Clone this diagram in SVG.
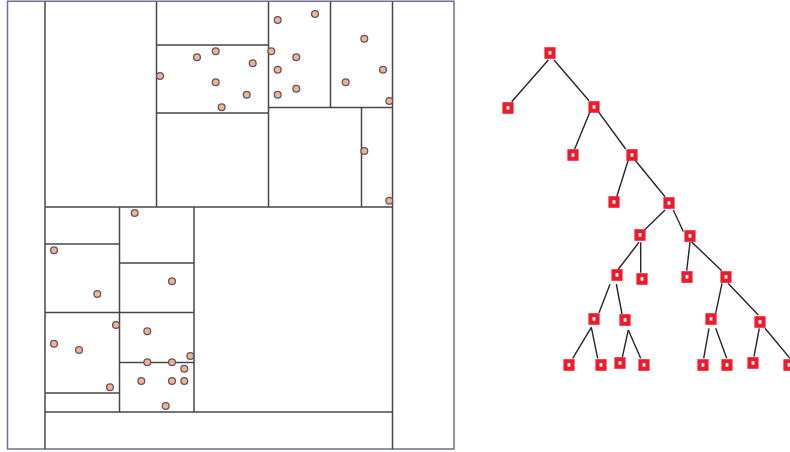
<svg xmlns="http://www.w3.org/2000/svg" width="790" height="452" viewBox="0 0 790 452">
<style>
.frame{fill:#fff;stroke:#6e6e9a;stroke-width:1.5}
.cut{stroke:#474747;stroke-width:1.5;fill:none}
.pt{fill:#fcb474;stroke:#55558a;stroke-width:1.3}
.edge{stroke:#262626;stroke-width:1.4;fill:none}
.nd{fill:#ee1b2d}
.ni{fill:#fff}
</style>
<defs>
<g id="node"><rect class="nd" x="-5.6" y="-5.8" width="11.2" height="11.6"/><rect class="ni" x="-1.4" y="-1.9" width="2.8" height="3.6"/></g>
</defs>
<rect class="frame" x="7.5" y="1.25" width="446.5" height="447.75"/>
<g id="partition">
<line class="cut" x1="45" y1="1.5" x2="45" y2="449"/>
<line class="cut" x1="392.5" y1="1.5" x2="392.5" y2="449"/>
<line class="cut" x1="45" y1="207" x2="392.5" y2="207"/>
<line class="cut" x1="45" y1="412" x2="392.5" y2="412"/>
<line class="cut" x1="156.5" y1="1.5" x2="156.5" y2="207"/>
<line class="cut" x1="268.5" y1="1.5" x2="268.5" y2="207"/>
<line class="cut" x1="156.5" y1="45" x2="268.5" y2="45"/>
<line class="cut" x1="156.5" y1="113" x2="268.5" y2="113"/>
<line class="cut" x1="268.5" y1="107.5" x2="392.5" y2="107.5"/>
<line class="cut" x1="330.5" y1="1.5" x2="330.5" y2="107.5"/>
<line class="cut" x1="361.5" y1="107.5" x2="361.5" y2="207"/>
<line class="cut" x1="194" y1="207" x2="194" y2="412"/>
<line class="cut" x1="119.5" y1="207" x2="119.5" y2="412"/>
<line class="cut" x1="45" y1="244" x2="119.5" y2="244"/>
<line class="cut" x1="45" y1="312.5" x2="194" y2="312.5"/>
<line class="cut" x1="45" y1="393" x2="119.5" y2="393"/>
<line class="cut" x1="119.5" y1="263" x2="194" y2="263"/>
<line class="cut" x1="119.5" y1="362.5" x2="194" y2="362.5"/>
</g>
<g id="points">
<circle class="pt" cx="197" cy="57.3" r="3.4"/>
<circle class="pt" cx="215.7" cy="51.3" r="3.4"/>
<circle class="pt" cx="160" cy="76" r="3.4"/>
<circle class="pt" cx="215.7" cy="82.3" r="3.4"/>
<circle class="pt" cx="221.7" cy="107.3" r="3.4"/>
<circle class="pt" cx="134.7" cy="213" r="3.4"/>
<circle class="pt" cx="277.7" cy="20" r="3.4"/>
<circle class="pt" cx="315" cy="14" r="3.4"/>
<circle class="pt" cx="271.3" cy="51.3" r="3.4"/>
<circle class="pt" cx="296.3" cy="57.3" r="3.4"/>
<circle class="pt" cx="277.7" cy="69.7" r="3.4"/>
<circle class="pt" cx="296.3" cy="88.7" r="3.4"/>
<circle class="pt" cx="277.7" cy="94.7" r="3.4"/>
<circle class="pt" cx="252.7" cy="63.3" r="3.4"/>
<circle class="pt" cx="246.7" cy="94.7" r="3.4"/>
<circle class="pt" cx="364.3" cy="38.7" r="3.4"/>
<circle class="pt" cx="383" cy="69.7" r="3.4"/>
<circle class="pt" cx="345.7" cy="82.3" r="3.4"/>
<circle class="pt" cx="389.3" cy="101" r="3.4"/>
<circle class="pt" cx="364.3" cy="151" r="3.4"/>
<circle class="pt" cx="389.3" cy="200.7" r="3.4"/>
<circle class="pt" cx="54" cy="250.3" r="3.4"/>
<circle class="pt" cx="97.3" cy="294" r="3.4"/>
<circle class="pt" cx="172" cy="281.3" r="3.4"/>
<circle class="pt" cx="116" cy="325" r="3.4"/>
<circle class="pt" cx="54" cy="343.7" r="3.4"/>
<circle class="pt" cx="79" cy="350" r="3.4"/>
<circle class="pt" cx="147.3" cy="331.3" r="3.4"/>
<circle class="pt" cx="190.3" cy="356" r="3.4"/>
<circle class="pt" cx="147.3" cy="362.3" r="3.4"/>
<circle class="pt" cx="172" cy="362.3" r="3.4"/>
<circle class="pt" cx="184.3" cy="368.7" r="3.4"/>
<circle class="pt" cx="141.3" cy="381" r="3.4"/>
<circle class="pt" cx="172" cy="381" r="3.4"/>
<circle class="pt" cx="184.3" cy="381" r="3.4"/>
<circle class="pt" cx="110" cy="387.3" r="3.4"/>
<circle class="pt" cx="165.7" cy="406" r="3.4"/>
</g>
<g id="connectors">
<line class="edge" x1="548.3" y1="60" x2="511.7" y2="101.7"/>
<line class="edge" x1="554" y1="60" x2="589" y2="100.7"/>
<line class="edge" x1="590" y1="111.7" x2="574.7" y2="149"/>
<line class="edge" x1="598.3" y1="111.7" x2="625.7" y2="149"/>
<line class="edge" x1="628.3" y1="160" x2="616.7" y2="196.7"/>
<line class="edge" x1="635" y1="160" x2="665" y2="196.7"/>
<line class="edge" x1="665" y1="210" x2="644.5" y2="230"/>
<line class="edge" x1="673.3" y1="210" x2="683.3" y2="231.5"/>
<line class="edge" x1="639" y1="242.3" x2="618.3" y2="269.3"/>
<line class="edge" x1="640.7" y1="242.3" x2="640.7" y2="272.7"/>
<line class="edge" x1="690" y1="242" x2="686.7" y2="270.7"/>
<line class="edge" x1="691.7" y1="242" x2="721.7" y2="270.7"/>
<line class="edge" x1="610" y1="284.3" x2="599" y2="312.7"/>
<line class="edge" x1="616.3" y1="284" x2="622" y2="314"/>
<line class="edge" x1="722" y1="283.3" x2="715.7" y2="313.3"/>
<line class="edge" x1="728" y1="283.3" x2="758.3" y2="315"/>
<line class="edge" x1="591.3" y1="327.3" x2="572.7" y2="358.3"/>
<line class="edge" x1="591.3" y1="327.3" x2="597.7" y2="358.3"/>
<line class="edge" x1="628.3" y1="330" x2="622.3" y2="357.3"/>
<line class="edge" x1="628.3" y1="330" x2="640.7" y2="358.3"/>
<line class="edge" x1="709" y1="328.3" x2="703.7" y2="358.3"/>
<line class="edge" x1="715.7" y1="328.3" x2="726.7" y2="358.3"/>
<line class="edge" x1="759.3" y1="328.3" x2="754" y2="356.7"/>
<line class="edge" x1="765" y1="328.3" x2="790" y2="358.3"/>
</g>
<g id="n_root"><use href="#node" x="550" y="53"/></g>
<g id="n_a"><use href="#node" x="508" y="108"/></g>
<g id="n_b"><use href="#node" x="594" y="107"/></g>
<g id="n_c"><use href="#node" x="573" y="155"/></g>
<g id="n_d"><use href="#node" x="632" y="155"/></g>
<g id="n_e"><use href="#node" x="614" y="202"/></g>
<g id="n_f"><use href="#node" x="669" y="203"/></g>
<g id="n_g"><use href="#node" x="640" y="235"/></g>
<g id="n_h"><use href="#node" x="690" y="236"/></g>
<g id="n_i"><use href="#node" x="617" y="275"/></g>
<g id="n_j"><use href="#node" x="642" y="279"/></g>
<g id="n_k"><use href="#node" x="687" y="277"/></g>
<g id="n_l"><use href="#node" x="726" y="277"/></g>
<g id="n_m"><use href="#node" x="594" y="319"/></g>
<g id="n_n"><use href="#node" x="625" y="320"/></g>
<g id="n_o"><use href="#node" x="711" y="319"/></g>
<g id="n_p"><use href="#node" x="760" y="322"/></g>
<g id="n_m1"><use href="#node" x="569" y="365"/></g>
<g id="n_m2"><use href="#node" x="601" y="365"/></g>
<g id="n_n1"><use href="#node" x="620" y="363"/></g>
<g id="n_n2"><use href="#node" x="644" y="365"/></g>
<g id="n_o1"><use href="#node" x="703" y="365"/></g>
<g id="n_o2"><use href="#node" x="727" y="365"/></g>
<g id="n_p1"><use href="#node" x="753" y="363"/></g>
<g id="n_p2"><use href="#node" x="789" y="365"/></g>
</svg>
